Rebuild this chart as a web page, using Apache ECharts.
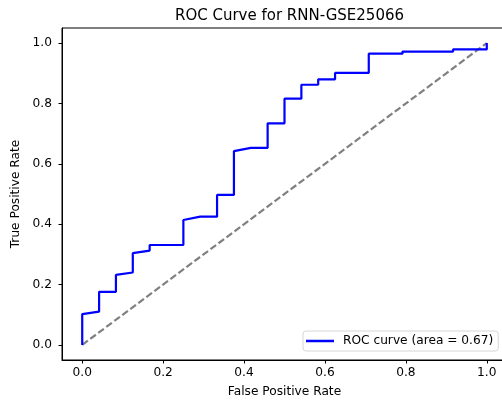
<!DOCTYPE html>
<html>
<head>
<meta charset="utf-8">
<script src="https://cdn.jsdelivr.net/npm/echarts@6/dist/echarts.min.js"></script>
<style>html,body{margin:0;padding:0;background:#fff}#c{width:502px;height:400px}</style>
</head>
<body>
<div id="c"></div>
<script>
const titleText = 'ROC Curve for RNN-GSE25066';
const legendLabel = 'ROC curve (area = 0.67)';
const xTicks = [0, 0.2, 0.4, 0.6, 0.8, 1.0];
const yTicks = [0, 0.2, 0.4, 0.6, 0.8, 1.0];
const fpr = [0, 0, 0.0417, 0.0417, 0.0833, 0.0833, 0.125, 0.125, 0.1667, 0.1667, 0.25, 0.25, 0.2917, 0.3333, 0.3333, 0.375, 0.375, 0.4167, 0.4583, 0.4583, 0.5, 0.5, 0.5417, 0.5417, 0.5833, 0.5833, 0.625, 0.625, 0.7083, 0.7083, 0.7917, 0.7917, 0.9167, 0.9167, 1.0, 1.0];
const tpr = [0, 0.102, 0.11, 0.176, 0.176, 0.232, 0.240, 0.304, 0.3125, 0.331, 0.331, 0.414, 0.425, 0.425, 0.497, 0.497, 0.642, 0.653, 0.653, 0.734, 0.734, 0.816, 0.816, 0.862, 0.862, 0.880, 0.880, 0.901, 0.901, 0.965, 0.965, 0.972, 0.972, 0.979, 0.979, 1.0];
const diagX = [0, 1];
const diagY = [0, 1];

const font = 'DejaVu Sans';
const fs = 12.2;
const chart = echarts.init(document.getElementById('c'), null, {renderer: 'canvas'});
const fmt = v => Number(v).toFixed(1);
chart.setOption({
  animation: false,
  backgroundColor: '#fff',
  textStyle: {fontFamily: font},
  title: {
    text: titleText, left: 284.5, top: 4, textAlign: 'center',
    textStyle: {fontFamily: font, fontSize: 15, fontWeight: 'normal', color: '#000'}
  },
  grid: {left: 62, top: 28, width: 445, height: 332, outerBoundsMode: 'none', containLabel: false,
    show: true, borderColor: '#000', borderWidth: 1, backgroundColor: 'transparent'},
  legend: {
    data: [legendLabel], left: 303, top: 331, orient: 'vertical',
    icon: 'rect', itemWidth: 28, itemHeight: 2.5,
    padding: [4, 5, 4, 3],
    borderColor: '#d6d6d6', borderWidth: 1, borderRadius: 3,
    backgroundColor: 'rgba(255,255,255,0.8)',
    textStyle: {fontFamily: font, fontSize: fs, color: '#000', padding: [0, 0, 0, 4]}
  },
  xAxis: {
    type: 'value', min: -0.05, max: 1.05,
    name: 'False Positive Rate', nameLocation: 'middle', nameGap: 26,
    nameTextStyle: {fontFamily: font, fontSize: fs, color: '#000'},
    axisLine: {show: true, onZero: false, lineStyle: {color: '#000', width: 1}},
    axisTick: {show: true, customValues: xTicks, length: 3.5, lineStyle: {color: '#000'}},
    axisLabel: {customValues: xTicks, formatter: fmt, margin: 7, fontFamily: font, fontSize: fs, color: '#000'},
    splitLine: {show: false}
  },
  yAxis: {
    type: 'value', min: -0.05, max: 1.05,
    name: 'True Positive Rate', nameLocation: 'middle', nameGap: 34, nameRotate: 90,
    nameTextStyle: {fontFamily: font, fontSize: fs, color: '#000'},
    axisLine: {show: true, onZero: false, lineStyle: {color: '#000', width: 1}},
    axisTick: {show: true, customValues: yTicks, length: 3.5, lineStyle: {color: '#000'}},
    axisLabel: {customValues: yTicks, formatter: fmt, margin: 10, fontFamily: font, fontSize: fs, color: '#000'},
    splitLine: {show: false}
  },
  series: [
    {
      name: legendLabel, type: 'line', showSymbol: false, symbol: 'none',
      data: fpr.map((x, i) => [x, tpr[i]]),
      lineStyle: {color: '#0000ff', width: 2.2}, itemStyle: {color: '#0000ff'}, z: 3
    },
    {
      name: 'diag', type: 'line', showSymbol: false, symbol: 'none',
      data: diagX.map((x, i) => [x, diagY[i]]),
      lineStyle: {color: '#808080', width: 2.2, type: [7, 3]}, itemStyle: {color: '#808080'}, z: 2
    }
  ]
});
</script>
</body>
</html>
